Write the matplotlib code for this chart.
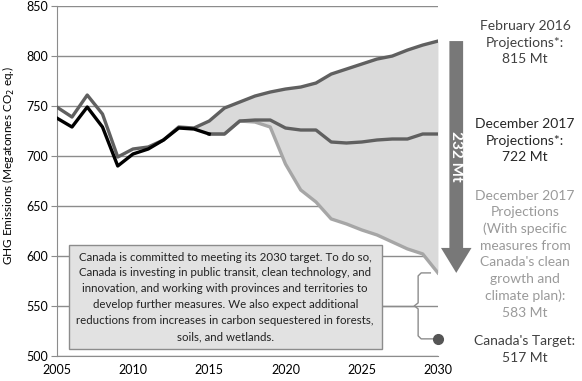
import numpy as np
import matplotlib
matplotlib.use("Agg")
import matplotlib.pyplot as plt
from matplotlib.patches import Rectangle, FancyArrow

plt.rcParams['font.family'] = ['Lato', 'DejaVu Sans']

# historical emissions
hist_years = list(range(2005, 2016))
hist = [738, 729, 749, 729, 690, 702, 707, 716, 728, 727, 722]

# February 2016 projections
feb_years = list(range(2005, 2031))
feb2016 = [749, 739, 761, 742, 699, 707, 709, 716, 729, 728, 735, 748, 754,
           760, 764, 767, 769, 773, 782, 787, 792, 797, 800, 806, 811, 815]

# December 2017 projections
proj_years = list(range(2015, 2031))
dec2017 = [722, 722, 735, 736, 736, 728, 726, 726, 714, 713, 714, 716, 717,
           717, 722, 722]
# December 2017 with specific measures
measures = [722, 722, 735, 734, 729, 692, 666, 654, 637, 632, 626, 621, 614,
            607, 602, 583]

target_year = 2030
target = 517

box_text = ("Canada is committed to meeting its 2030 target. To do so,\n"
            "Canada is investing in public transit, clean technology, and\n"
            "innovation, and working with provinces and territories to\n"
            "develop further measures. We also expect additional\n"
            "reductions from increases in carbon sequestered in forests,\n"
            "soils, and wetlands.")

fig = plt.figure(figsize=(5.82, 3.81), dpi=100)
ax = fig.add_axes([0.0975, 0.066, 0.655, 0.918])

# shaded band between Feb 2016 and with-measures projections
fill_years = [2014] + proj_years
fill_low = [hist[hist_years.index(2014)]] + measures
fill_high = [feb2016[feb_years.index(y)] for y in fill_years]
ax.fill_between(fill_years, fill_low, fill_high, color='#dadada', lw=0, zorder=1)

ax.plot(proj_years, measures, color='#a6a6a6', lw=2.4, zorder=3)
ax.plot(proj_years, dec2017, color='#606060', lw=2.4, zorder=4)
ax.plot(feb_years, feb2016, color='#606060', lw=2.4, zorder=4)
ax.plot(hist_years, hist, color='black', lw=2.4, zorder=5)

ax.plot([target_year], [target], 'o', color='#555555', ms=7, zorder=6,
        clip_on=False)

ax.set_xlim(2005, 2030)
ax.set_ylim(500, 850)
ax.set_yticks(range(500, 851, 50))
ax.set_xticks(range(2005, 2031, 5))
ax.grid(axis='y', color='#8c8c8c', lw=1, zorder=0)
ax.set_axisbelow(True)
for s in ['top', 'right']:
    ax.spines[s].set_visible(False)
ax.spines['left'].set_color('#8c8c8c')
ax.spines['bottom'].set_color('#8c8c8c')
ax.tick_params(axis='y', length=4, color='#8c8c8c', labelsize=9, pad=2)
ax.tick_params(axis='x', length=0, labelsize=9, pad=6)
ax.set_ylabel('GHG Emissions (Megatonnes CO$_2$ eq.)', fontsize=8.5)
ax.yaxis.set_label_coords(-0.104, 0.545)

# text box
bx0, bx1, by0, by1 = 2005.8, 2026.3, 507, 611
ax.add_patch(Rectangle((bx0, by0), bx1 - bx0, by1 - by0, facecolor='#e2e2e2',
                       edgecolor='#8c8c8c', lw=1, zorder=7))
ax.text((bx0 + bx1) / 2, (by0 + by1) / 2, box_text, ha='center', va='center',
        fontsize=8.3, linespacing=1.55, color='#222222', zorder=8)

# bracket from box to target / projection
bkx = 2028.7
ax.plot([bx1, bkx - 0.25], [550, 550], color='#8c8c8c', lw=1, zorder=2)
ax.plot([bkx + 0.8, bkx + 0.2, bkx, bkx, bkx - 0.25, bkx, bkx, bkx + 0.2,
         target_year - 0.3],
        [measures[-1], measures[-1], measures[-1] - 3, 553, 550, 547,
         target + 3, target, target],
        color='#8c8c8c', lw=1, zorder=2, clip_on=False)

# big arrow showing the gap
gap = feb2016[-1] - measures[-1]
ax_x = 2031.2
ax.add_patch(FancyArrow(ax_x, feb2016[-1], 0, -gap, width=0.9,
                        head_width=2.0, head_length=25,
                        length_includes_head=True, color='#787878',
                        lw=0, clip_on=False, zorder=6))
ax.text(ax_x, 700, '%d Mt' % gap, rotation=-90, ha='center', va='center',
        color='white', fontsize=11, fontweight='bold', zorder=7)

# right side labels
tx = 0.902
fig.text(tx, 0.888, 'February 2016\nProjections*:\n815 Mt', ha='center',
         va='center', fontsize=10, linespacing=1.45, color='#404040')
fig.text(tx, 0.63, 'December 2017\nProjections*:\n722 Mt', ha='center',
         va='center', fontsize=10, linespacing=1.45, color='#262626')
fig.text(tx, 0.333, "December 2017\nProjections\n(With specific\nmeasures from\n"
         "Canada's clean\ngrowth and\nclimate plan):\n583 Mt", ha='center',
         va='center', fontsize=10, linespacing=1.45, color='#9a9a9a')
fig.text(tx, 0.083, "Canada's Target:\n517 Mt", ha='center', va='center',
         fontsize=10, linespacing=1.45, color='#404040')

fig.savefig('out.png', dpi=100)
